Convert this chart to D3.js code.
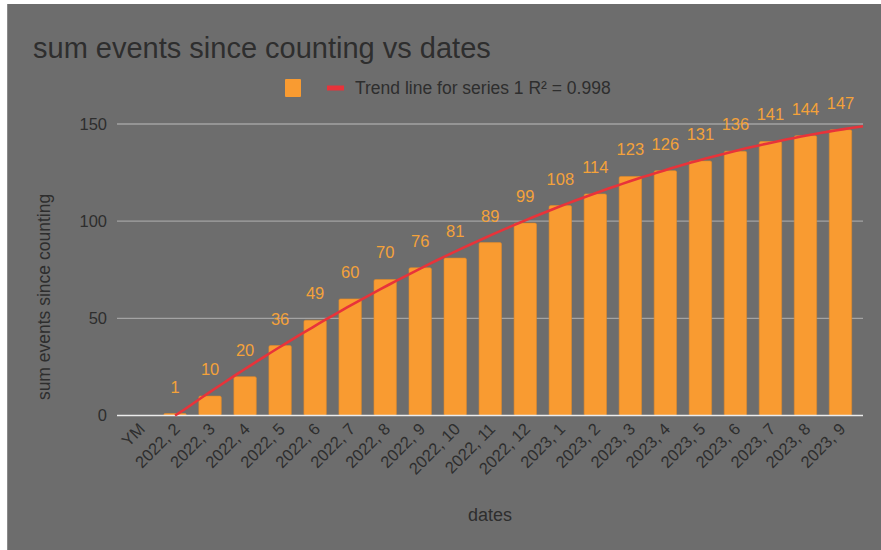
<!DOCTYPE html>
<html>
<head>
<meta charset="utf-8">
<script src="https://cdn.jsdelivr.net/npm/d3@7"></script>
<style>
  html, body { margin: 0; padding: 0; background: #ffffff; }
  svg { display: block; }
  text { font-family: "Liberation Sans", Arial, sans-serif; }
</style>
</head>
<body>
<script>
var categories = ["YM", "2022, 2", "2022, 3", "2022, 4", "2022, 5", "2022, 6", "2022, 7",
  "2022, 8", "2022, 9", "2022, 10", "2022, 11", "2022, 12", "2023, 1", "2023, 2",
  "2023, 3", "2023, 4", "2023, 5", "2023, 6", "2023, 7", "2023, 8", "2023, 9"];
var values = [null, 1, 10, 20, 36, 49, 60, 70, 76, 81, 89, 99, 108, 114, 123, 126, 131, 136, 141, 144, 147];
var yTicks = [0, 50, 100, 150];
var titleText = "sum events since counting vs dates";
var legendText = "Trend line for series 1 R² = 0.998";

var width = 881, height = 550;
var bg = "#6d6d6d", barColor = "#f99b31", labelColor = "#f4a23a", trendColor = "#e8333a", inkColor = "#2e2e2e";

var svg = d3.select("body").append("svg")
  .attr("width", width)
  .attr("height", height);

svg.append("rect").attr("x", 0).attr("y", 0).attr("width", width).attr("height", height).style("fill", "#ffffff");
svg.append("rect").attr("x", 7).attr("y", 4).attr("width", width - 7).attr("height", height - 4).style("fill", bg);
svg.append("line").attr("x1", 7.5).attr("x2", 7.5).attr("y1", 4).attr("y2", height).style("stroke", "#8a8a8a");

var plotLeft = 117, plotRight = 863;

var x = d3.scaleBand()
  .domain(categories)
  .range([122.5, 858])
  .paddingInner(0.36)
  .paddingOuter(0.18);

var y = d3.scaleLinear()
  .domain([0, 150])
  .range([415.5, 124]);

// gridlines
svg.selectAll("line.grid")
  .data(yTicks.filter(function(d) { return d > 0; }))
  .enter()
  .append("line")
  .attr("class", "grid")
  .attr("x1", plotLeft)
  .attr("x2", plotRight)
  .attr("y1", function(d) { return y(d); })
  .attr("y2", function(d) { return y(d); })
  .style("stroke", "#a3a3a3")
  .style("stroke-width", 1.3);

// y tick labels
svg.selectAll("text.ytick")
  .data(yTicks)
  .enter()
  .append("text")
  .attr("class", "ytick")
  .attr("x", 107)
  .attr("y", function(d) { return y(d); })
  .attr("dy", "0.36em")
  .attr("text-anchor", "end")
  .attr("font-size", 16.5)
  .style("fill", inkColor)
  .text(function(d) { return d; });

// bars
var barData = categories.map(function(c, i) { return { cat: c, value: values[i], idx: i }; })
  .filter(function(d) { return d.value != null; });

svg.selectAll("rect.bar")
  .data(barData)
  .enter()
  .append("rect")
  .attr("class", "bar")
  .attr("x", function(d) { return x(d.cat); })
  .attr("y", function(d) { return y(d.value); })
  .attr("width", x.bandwidth())
  .attr("height", function(d) { return y(0) - y(d.value); })
  .attr("rx", 1.5)
  .style("fill", barColor)
  .style("stroke", "#e08a28")
  .style("stroke-width", 0.6);

// baseline
svg.append("line")
  .attr("x1", plotLeft)
  .attr("x2", plotRight)
  .attr("y1", y(0))
  .attr("y2", y(0))
  .style("stroke", "#ececec")
  .style("stroke-width", 1.6);

// polynomial (degree 2) trend line fitted to the bars
var pts = barData.map(function(d) { return [d.idx, d.value]; });
var mx = d3.mean(pts, function(p) { return p[0]; });
var my = d3.mean(pts, function(p) { return p[1]; });
var m2 = d3.mean(pts, function(p) { return (p[0] - mx) * (p[0] - mx); });
var sTT = 0, sTy = 0, sQQ = 0, sQy = 0, sTQ = 0;
pts.forEach(function(p) {
  var t = p[0] - mx, q = t * t - m2;
  sTT += t * t; sTy += t * (p[1] - my);
  sQQ += q * q; sQy += q * (p[1] - my); sTQ += t * q;
});
var det = sTT * sQQ - sTQ * sTQ;
var b = (sTy * sQQ - sQy * sTQ) / det;
var c = (sQy * sTT - sTy * sTQ) / det;
function fit(v) { var t = v - mx; return my + b * t + c * (t * t - m2); }

var step = x.step();
var idxToX = function(v) { return x(categories[0]) + x.bandwidth() / 2 + v * step; };
var xToIdx = function(px) { return (px - x(categories[0]) - x.bandwidth() / 2) / step; };
var tStart = pts[0][0], tEnd = xToIdx(plotRight);
var trendPts = d3.range(0, 101).map(function(k) {
  var v = tStart + (tEnd - tStart) * k / 100;
  return [idxToX(v), y(Math.max(0, fit(v)))];
});
svg.append("path")
  .attr("d", d3.line()(trendPts))
  .style("fill", "none")
  .style("stroke", trendColor)
  .style("stroke-width", 2.6);

// value labels
svg.selectAll("text.vlabel")
  .data(barData)
  .enter()
  .append("text")
  .attr("class", "vlabel")
  .attr("x", function(d) { return x(d.cat) + x.bandwidth() / 2; })
  .attr("y", function(d) { return y(d.value) - 21; })
  .attr("text-anchor", "middle")
  .attr("font-size", 16.5)
  .style("fill", labelColor)
  .text(function(d) { return d.value; });

// x tick labels
svg.selectAll("text.xtick")
  .data(categories)
  .enter()
  .append("text")
  .attr("class", "xtick")
  .attr("transform", function(d) {
    return "translate(" + (x(d) + x.bandwidth() / 2 + 6) + ",430) rotate(-45)";
  })
  .attr("text-anchor", "end")
  .attr("font-size", 16.5)
  .style("fill", inkColor)
  .text(function(d) { return d; });

// title
svg.append("text")
  .attr("x", 33)
  .attr("y", 58)
  .attr("font-size", 29)
  .style("fill", inkColor)
  .text(titleText);

// legend
svg.append("rect")
  .attr("x", 285).attr("y", 79).attr("width", 16).attr("height", 18).attr("rx", 1)
  .style("fill", barColor);
svg.append("rect")
  .attr("x", 327).attr("y", 85.5).attr("width", 17).attr("height", 5)
  .style("fill", trendColor);
svg.append("text")
  .attr("x", 355)
  .attr("y", 88)
  .attr("dy", "0.36em")
  .attr("font-size", 17.5)
  .style("fill", inkColor)
  .text(legendText);

// axis titles
svg.append("text")
  .attr("transform", "translate(50,297) rotate(-90)")
  .attr("text-anchor", "middle")
  .attr("font-size", 17.5)
  .style("fill", inkColor)
  .text("sum events since counting");

svg.append("text")
  .attr("x", 490)
  .attr("y", 521)
  .attr("text-anchor", "middle")
  .attr("font-size", 18)
  .style("fill", inkColor)
  .text("dates");
</script>
</body>
</html>
